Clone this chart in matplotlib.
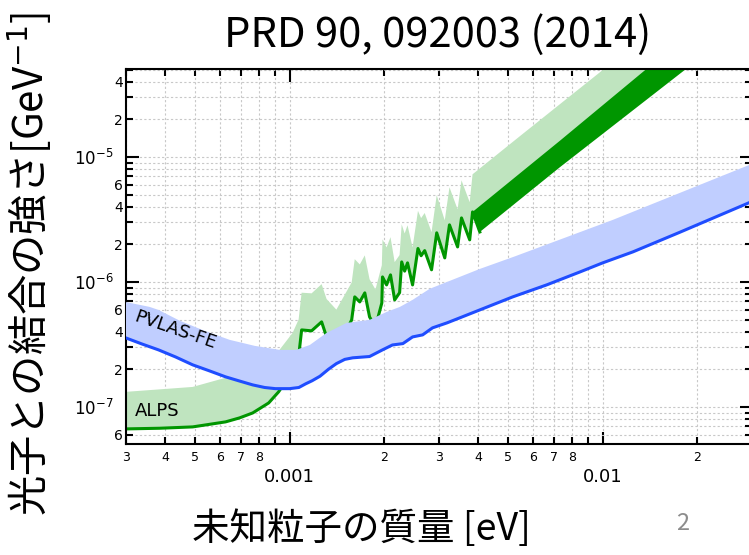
import numpy as np
import matplotlib.pyplot as plt
from matplotlib.ticker import LogLocator, FuncFormatter

plt.rcParams['font.family'] = ['DejaVu Sans']
JP = ['Noto Sans CJK JP', 'DejaVu Sans']

# PVLAS-FE: exclusion line and shaded band above it
pvlas_mass = [3.0e-4, 3.37e-4, 3.81e-4, 4.32e-4, 4.9e-4, 5.55e-4, 6.24e-4, 6.92e-4,
              7.62e-4, 8.32e-4, 9.0e-4, 1.0e-3, 1.07e-3, 1.125e-3, 1.18e-3, 1.25e-3,
              1.33e-3, 1.41e-3, 1.50e-3, 1.59e-3, 1.80e-3, 1.98e-3, 2.13e-3, 2.30e-3,
              2.47e-3, 2.66e-3, 2.86e-3, 3.18e-3, 3.49e-3, 4.05e-3, 5.16e-3, 6.62e-3,
              8.45e-3, 1.0e-2, 1.25e-2, 1.76e-2, 3.0e-2]
pvlas_g = [3.56e-7, 3.19e-7, 2.86e-7, 2.51e-7, 2.17e-7, 1.94e-7, 1.74e-7, 1.61e-7,
           1.50e-7, 1.43e-7, 1.40e-7, 1.40e-7, 1.43e-7, 1.53e-7, 1.62e-7, 1.76e-7,
           2.0e-7, 2.22e-7, 2.40e-7, 2.47e-7, 2.53e-7, 2.86e-7, 3.13e-7, 3.21e-7,
           3.63e-7, 3.77e-7, 4.29e-7, 4.70e-7, 5.15e-7, 5.97e-7, 7.59e-7, 9.46e-7,
           1.2e-6, 1.42e-6, 1.74e-6, 2.49e-6, 4.4e-6]
pvlas_top_mass = [3.0e-4, 3.57e-4, 3.81e-4, 4.45e-4, 5.35e-4, 6.43e-4, 7.73e-4, 9.29e-4,
                  1.05e-3, 1.16e-3, 1.31e-3, 1.52e-3, 1.80e-3, 2.04e-3, 2.25e-3,
                  2.47e-3, 2.80e-3, 4.05e-3, 5.24e-3, 1.076e-2, 3.0e-2]
pvlas_top = [6.9e-7, 6.31e-7, 5.97e-7, 4.9e-7, 4.06e-7, 3.44e-7, 3.08e-7, 2.86e-7,
             2.86e-7, 3.13e-7, 3.9e-7, 4.7e-7, 4.97e-7, 5.75e-7, 6.31e-7,
             7.18e-7, 8.8e-7, 1.27e-6, 1.6e-6, 3.13e-6, 8.8e-6]

# ALPS: exclusion line (oscillating at high mass) and band above it
alps_mass = [3.0e-4, 3.84e-4, 4.9e-4, 6.24e-4, 6.92e-4, 7.62e-4, 8.57e-4, 9.22e-4,
             9.93e-4, 1.068e-3, 1.092e-3, 1.175e-3, 1.265e-3, 1.312e-3, 1.43e-3,
             1.578e-3, 1.614e-3, 1.675e-3, 1.738e-3, 1.80e-3, 1.88e-3, 1.97e-3,
             1.98e-3, 2.04e-3, 2.10e-3, 2.165e-3, 2.245e-3, 2.28e-3, 2.33e-3, 2.38e-3,
             2.47e-3, 2.57e-3, 2.63e-3, 2.70e-3, 2.84e-3, 2.95e-3, 3.13e-3, 3.24e-3,
             3.44e-3, 3.54e-3, 3.76e-3, 3.84e-3, 4.05e-3]
alps_g = [6.67e-8, 6.75e-8, 6.92e-8, 7.59e-8, 8.17e-8, 8.95e-8, 1.076e-7, 1.32e-7,
          1.74e-7, 2.51e-7, 4.13e-7, 4.06e-7, 4.79e-7, 3.63e-7, 3.0e-7,
          4.97e-7, 7.59e-7, 6.92e-7, 8.17e-7, 5.25e-7, 4.36e-7, 6.79e-7,
          1.096e-6, 9.46e-7, 1.138e-6, 7.18e-7, 8.2e-7, 1.445e-6, 1.22e-6, 1.42e-6,
          9.46e-7, 1.85e-6, 1.62e-6, 1.78e-6, 1.25e-6, 2.47e-6, 1.556e-6, 2.86e-6,
          1.905e-6, 3.25e-6, 2.17e-6, 3.63e-6, 2.51e-6]
light_mass = [3.0e-4, 4.9e-4, 6.24e-4, 7.62e-4, 9.02e-4, 1.022e-3, 1.068e-3, 1.092e-3,
              1.175e-3, 1.265e-3, 1.312e-3, 1.41e-3, 1.578e-3, 1.614e-3, 1.675e-3,
              1.738e-3, 1.80e-3, 1.88e-3, 1.97e-3, 1.98e-3, 2.04e-3, 2.10e-3, 2.165e-3,
              2.245e-3, 2.28e-3, 2.33e-3, 2.38e-3, 2.47e-3, 2.57e-3, 2.63e-3, 2.70e-3,
              2.84e-3, 2.95e-3, 3.13e-3, 3.24e-3, 3.44e-3, 3.54e-3, 3.76e-3, 3.84e-3,
              4.5e-3, 5.43e-3, 7.3e-3, 1.0e-2, 3.0e-2]
light_top = [1.32e-7, 1.445e-7, 1.71e-7, 2.05e-7, 2.61e-7, 3.91e-7, 5.0e-7, 8.2e-7,
             8.1e-7, 9.6e-7, 7.3e-7, 6.0e-7, 9.9e-7, 1.52e-6, 1.38e-6,
             1.63e-6, 1.05e-6, 8.7e-7, 1.36e-6, 2.19e-6, 1.89e-6, 2.28e-6, 1.44e-6,
             1.64e-6, 2.89e-6, 2.44e-6, 2.84e-6, 1.89e-6, 3.7e-6, 3.24e-6, 3.56e-6,
             2.5e-6, 4.94e-6, 3.11e-6, 5.72e-6, 3.81e-6, 6.5e-6, 4.34e-6, 7.26e-6,
             1.0e-5, 1.46e-5, 2.64e-5, 4.95e-5, 4.5e-4]
# envelope of the dense oscillations at high mass
dark_lo_mass = [4.05e-3, 7.31e-3, 1.83e-2, 3.0e-2]
dark_lo = [2.51e-6, 8.3e-6, 4.97e-5, 1.35e-4]
dark_hi_mass = [3.84e-3, 7.31e-3, 1.36e-2, 3.0e-2]
dark_hi = [3.63e-6, 1.35e-5, 4.9e-5, 2.4e-4]

x_minor_shown = [2, 3, 4, 5, 6, 7, 8]
y_minor_shown = [2, 4, 6]

fig = plt.figure(figsize=(7.49, 5.55), dpi=100)
ax = fig.add_axes([126 / 749, 111 / 555, 626 / 749, 375 / 555])
ax.set_xscale('log')
ax.set_yscale('log')
ax.set_xlim(3e-4, 3e-2)
ax.set_ylim(5.05e-8, 5.05e-5)

green = '#009600'
light_green = '#bfe4bf'
blue = '#1f4dff'
light_blue = '#c0ceff'

ax.fill(np.r_[alps_mass, dark_lo_mass[1:], light_mass[::-1]],
        np.r_[alps_g, dark_lo[1:], light_top[::-1]],
        color=light_green, lw=0, zorder=1)
ax.fill(np.r_[dark_hi_mass, dark_lo_mass[::-1]], np.r_[dark_hi, dark_lo[::-1]],
        color=green, lw=0, zorder=2)
ax.plot(alps_mass, alps_g, color=green, lw=2.2, zorder=2)

ax.fill(np.r_[pvlas_mass, pvlas_top_mass[::-1]], np.r_[pvlas_g, pvlas_top[::-1]],
        color=light_blue, lw=0, zorder=3)
ax.plot(pvlas_mass, pvlas_g, color=blue, lw=2.2, zorder=4)

ax.text(4.32e-4, 4.13e-7, 'PVLAS-FE', rotation=-19, ha='center', va='center',
        fontsize=13, zorder=5)
ax.text(3.76e-4, 9.29e-8, 'ALPS', ha='center', va='center', fontsize=13, zorder=5)

# ticks
for axis in (ax.xaxis, ax.yaxis):
    axis.set_major_locator(LogLocator(base=10, numticks=12))
    axis.set_minor_locator(LogLocator(base=10, subs=np.arange(2, 10), numticks=12))


def lead(v):
    e = np.floor(np.log10(v) + 1e-9)
    return int(round(v / 10 ** e))


ax.xaxis.set_major_formatter(FuncFormatter(lambda v, p: f'{v:g}'))
ax.xaxis.set_minor_formatter(FuncFormatter(
    lambda v, p: str(lead(v)) if lead(v) in x_minor_shown else ''))
ax.yaxis.set_major_formatter(FuncFormatter(
    lambda v, p: r'$10^{%d}$' % int(round(np.log10(v)))))
ax.yaxis.set_minor_formatter(FuncFormatter(
    lambda v, p: str(lead(v)) if lead(v) in y_minor_shown else ''))

ax.tick_params(which='both', direction='in', top=True, right=True, width=1.5)
ax.tick_params(which='major', length=9)
ax.tick_params(which='minor', length=5)
ax.tick_params(axis='x', which='minor', labelsize=9, pad=5)
ax.tick_params(axis='x', which='major', labelsize=13, pad=17)
ax.tick_params(axis='y', which='minor', labelsize=10, pad=2)
ax.tick_params(axis='y', which='major', labelsize=12, pad=9)
for s in ax.spines.values():
    s.set_linewidth(1.5)

ax.grid(True, which='both', color='#c8c8c8', linestyle=(0, (2, 2)), linewidth=0.8)
ax.set_axisbelow(True)

fig.text(438 / 749, 1 - 35 / 555, 'PRD 90, 092003 (2014)', ha='center', va='center',
         fontsize=30, family=JP)
fig.text(361 / 749, 1 - 529 / 555, '未知粒子の質量 [eV]', ha='center', va='center',
         fontsize=27, family=JP)
fig.text(30 / 749, 1 - 264 / 555, '光子との結合の強さ[GeV$^{-1}$]', rotation=90,
         ha='center', va='center', fontsize=29, family=JP)
fig.text(683 / 749, 1 - 524 / 555, '2', ha='center', va='center', fontsize=17,
         color='#8c8c8c', family=JP)

fig.savefig('out.png', dpi=100)
